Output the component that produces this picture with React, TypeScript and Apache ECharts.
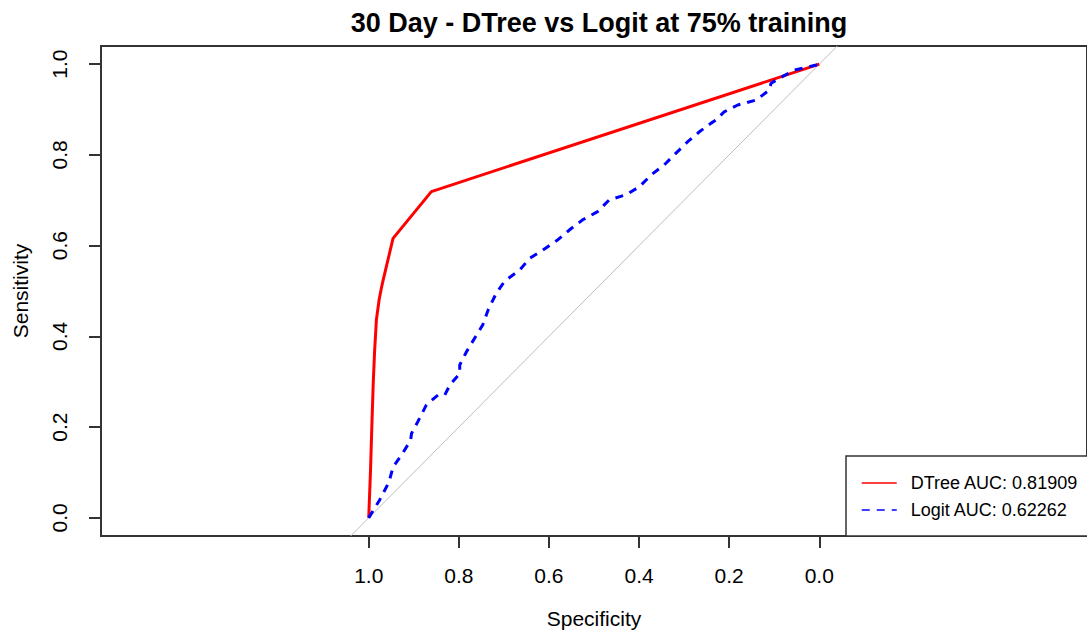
import React, { useEffect, useRef } from "react";
import * as echarts from "echarts";

// ROC curve for the decision tree (specificity, sensitivity pairs)
const dtreeSpecificity = [1.0, 0.996, 0.993, 0.99, 0.987, 0.983, 0.977, 0.972, 0.968, 0.946, 0.861, 0.0];
const dtreeSensitivity = [0.0, 0.105, 0.204, 0.296, 0.366, 0.436, 0.48, 0.506, 0.524, 0.616, 0.719, 1.0];

// ROC curve for the logistic regression
const logitSpecificity = [
  1.0, 0.976, 0.955, 0.946, 0.925, 0.907, 0.905, 0.891, 0.872, 0.846, 0.831, 0.82, 0.798, 0.798,
  0.783, 0.765, 0.747, 0.735, 0.717, 0.698, 0.665, 0.643, 0.614, 0.58, 0.554, 0.525, 0.492, 0.466,
  0.429, 0.399, 0.373, 0.344, 0.318, 0.292, 0.266, 0.24, 0.229, 0.211, 0.181, 0.14, 0.111, 0.107,
  0.081, 0.055, 0.037, 0.007, 0.0,
];
const logitSensitivity = [
  0.0, 0.039, 0.079, 0.112, 0.142, 0.171, 0.186, 0.212, 0.249, 0.271, 0.271, 0.293, 0.318, 0.337,
  0.366, 0.396, 0.425, 0.458, 0.495, 0.522, 0.546, 0.572, 0.59, 0.613, 0.635, 0.657, 0.675, 0.701,
  0.712, 0.73, 0.756, 0.778, 0.804, 0.829, 0.851, 0.87, 0.877, 0.895, 0.91, 0.921, 0.943, 0.958,
  0.973, 0.987, 0.991, 0.998, 1.0,
];

// Chance line (sensitivity = 1 - specificity) across the plotting box
const chanceSpecificity = [1.04, -0.04];
const chanceSensitivity = [-0.04, 1.04];

const tickValues = [0, 0.2, 0.4, 0.6, 0.8, 1.0];

const dtreeName = "DTree AUC: 0.81909";
const logitName = "Logit AUC: 0.62262";
const titleText = "30 Day - DTree vs Logit at 75% training";

const FONT = "'Liberation Sans', Arial, sans-serif";

const zip = (xs: number[], ys: number[]) => xs.map((x, i) => [x, ys[i]]);

export default function App() {
  const ref = useRef<HTMLDivElement>(null);

  useEffect(() => {
    if (!ref.current) return;
    const chart = echarts.init(ref.current, undefined, { renderer: "svg" });
    const tickStyle = {
      show: true,
      customValues: tickValues,
      length: 12,
      lineStyle: { color: "#333", width: 2 },
    };
    chart.setOption({
      animation: false,
      backgroundColor: "#ffffff",
      title: {
        text: titleText,
        left: 594,
        top: 4,
        textAlign: "center",
        textStyle: { fontFamily: FONT, fontSize: 27, fontWeight: "bold", color: "#000" },
      },
      grid: {
        show: true,
        left: 101,
        top: 46,
        width: 987,
        height: 490,
        borderColor: "#333",
        borderWidth: 2,
        backgroundColor: "transparent",
      },
      legend: {
        data: [dtreeName, logitName],
        orient: "vertical",
        left: 846,
        top: 456,
        padding: [17, 40, 16, 15],
        itemWidth: 35,
        itemHeight: 14,
        itemGap: 7,
        borderColor: "#333",
        borderWidth: 1.5,
        backgroundColor: "#fff",
        itemStyle: { opacity: 0 },
        lineStyle: { width: 1.5 },
        textStyle: {
          fontFamily: FONT,
          fontSize: 18,
          color: "#000",
          lineHeight: 20,
          padding: [0, 0, 0, 9],
        },
      },
      xAxis: {
        type: "value",
        inverse: true,
        min: -0.5942,
        max: 1.5942,
        name: "Specificity",
        nameLocation: "middle",
        nameGap: 72,
        nameTextStyle: { fontFamily: FONT, fontSize: 21, color: "#000" },
        axisLine: { show: false, onZero: false },
        splitLine: { show: false },
        axisTick: tickStyle,
        axisLabel: {
          customValues: tickValues,
          formatter: (v: number) => v.toFixed(1),
          margin: 29,
          fontFamily: FONT,
          fontSize: 21,
          color: "#000",
        },
      },
      yAxis: {
        type: "value",
        min: -0.04,
        max: 1.04,
        name: "Sensitivity",
        nameLocation: "middle",
        nameGap: 70,
        nameTextStyle: { fontFamily: FONT, fontSize: 21, color: "#000" },
        axisLine: { show: false, onZero: false },
        splitLine: { show: false },
        axisTick: tickStyle,
        axisLabel: {
          customValues: tickValues,
          formatter: (v: number) => v.toFixed(1),
          rotate: 90,
          margin: 31,
          fontFamily: FONT,
          fontSize: 21,
          color: "#000",
        },
      },
      series: [
        {
          name: "chance",
          type: "line",
          data: zip(chanceSpecificity, chanceSensitivity),
          showSymbol: false,
          symbol: "none",
          silent: true,
          lineStyle: { color: "#bebebe", width: 1 },
        },
        {
          name: dtreeName,
          type: "line",
          data: zip(dtreeSpecificity, dtreeSensitivity),
          showSymbol: false,
          symbol: "none",
          color: "#ff0000",
          lineStyle: { color: "#ff0000", width: 3 },
        },
        {
          name: logitName,
          type: "line",
          data: zip(logitSpecificity, logitSensitivity),
          showSymbol: false,
          symbol: "none",
          color: "#0000ff",
          lineStyle: { color: "#0000ff", width: 3, type: [8, 7] },
        },
      ],
    });
    return () => chart.dispose();
  }, []);

  return (
    <div
      ref={ref}
      style={{ position: "fixed", left: 0, top: 0, width: 1087, height: 639, background: "#fff" }}
    />
  );
}
